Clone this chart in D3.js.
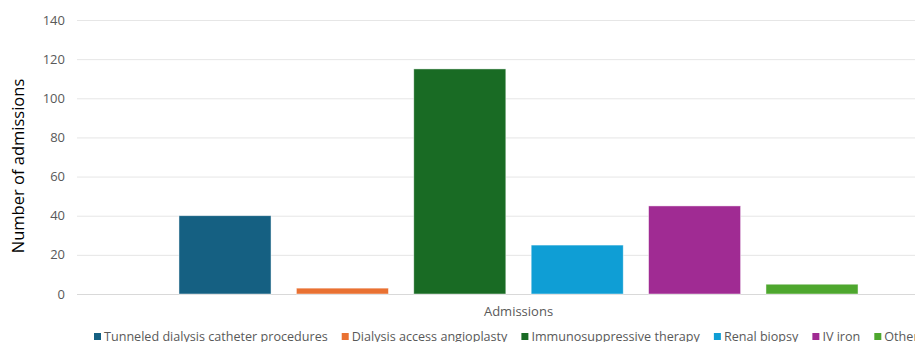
<!DOCTYPE html>
<html>
<head>
<meta charset="utf-8">
<script src="https://cdn.jsdelivr.net/npm/d3@7"></script>
<style>
  body { margin: 0; background: #fff; }
  svg { display: block; font-family: 'Open Sans', sans-serif; }
</style>
</head>
<body>
<svg></svg>
<script>
var categories = ['Tunneled dialysis catheter procedures', 'Dialysis access angioplasty',
  'Immunosuppressive therapy', 'Renal biopsy', 'IV iron', 'Others'];
var values = [40, 3, 115, 25, 45, 5];
var colors = ['#156082', '#E97132', '#196B24', '#0F9ED5', '#A02B93', '#4EA72E'];
var yTicks = [0, 20, 40, 60, 80, 100, 120, 140];
var groupLabel = 'Admissions';

var W = 915, H = 342;
var svg = d3.select('svg').attr('width', W).attr('height', H);

// plot area runs past the right edge, like the cropped original
var plotLeft = 77, plotRight = 960, plotTop = 20, plotBottom = 294;

var y = d3.scaleLinear().domain([0, 140]).range([plotBottom, plotTop]);
var x0 = d3.scaleBand().domain([groupLabel]).range([plotLeft, plotRight]).paddingInner(0).paddingOuter(0.105);
var x1 = d3.scaleBand().domain(categories).range([0, x0.bandwidth()]).padding(0.216);

// gridlines
svg.append('g')
   .selectAll('line')
   .data(yTicks)
   .enter()
   .append('line')
   .attr('x1', plotLeft)
   .attr('x2', plotRight)
   .attr('y1', d => y(d) + 0.5)
   .attr('y2', d => y(d) + 0.5)
   .attr('stroke', (d) => d === 0 ? '#d9d9d9' : '#e6e6e6')
   .attr('stroke-width', 1);

// tick labels
svg.append('g')
   .selectAll('text')
   .data(yTicks)
   .enter()
   .append('text')
   .text(d => d)
   .attr('x', 65)
   .attr('y', d => y(d))
   .attr('dy', '0.35em')
   .attr('text-anchor', 'end')
   .attr('fill', '#595959')
   .attr('font-size', '13px');

// bars
svg.append('g')
   .selectAll('rect')
   .data(values)
   .enter()
   .append('rect')
   .attr('x', (d, i) => x0(groupLabel) + x1(categories[i]))
   .attr('y', d => y(d))
   .attr('width', x1.bandwidth())
   .attr('height', d => y(0) - y(d))
   .attr('fill', (d, i) => colors[i])
   .attr('stroke', '#ffffff')
   .attr('stroke-opacity', 0.6)
   .attr('stroke-width', 0.75);

// category axis label
svg.append('text')
   .text(groupLabel)
   .attr('x', x0(groupLabel) + x0.bandwidth() / 2)
   .attr('y', 311)
   .attr('dy', '0.35em')
   .attr('text-anchor', 'middle')
   .attr('fill', '#595959')
   .attr('font-size', '13px');

// y axis title
svg.append('text')
   .text('Number of admissions')
   .attr('transform', 'translate(18,' + 166 + ') rotate(-90)')
   .attr('dy', '0.35em')
   .attr('text-anchor', 'middle')
   .attr('fill', '#000')
   .attr('font-size', '16.5px');

// legend
var legend = svg.append('g');
var lx = 94;
categories.forEach(function(c, i){
  var g = legend.append('g').attr('transform', 'translate(' + lx + ',0)');
  g.append('rect')
   .attr('x', 0)
   .attr('y', 333)
   .attr('width', 7)
   .attr('height', 7)
   .attr('fill', colors[i]);
  var t = g.append('text')
   .text(c)
   .attr('x', 10)
   .attr('y', 341)
   .attr('fill', '#595959')
   .attr('font-size', '12.6px');
  lx += 10 + t.node().getComputedTextLength() + 14;
});
</script>
</body>
</html>
